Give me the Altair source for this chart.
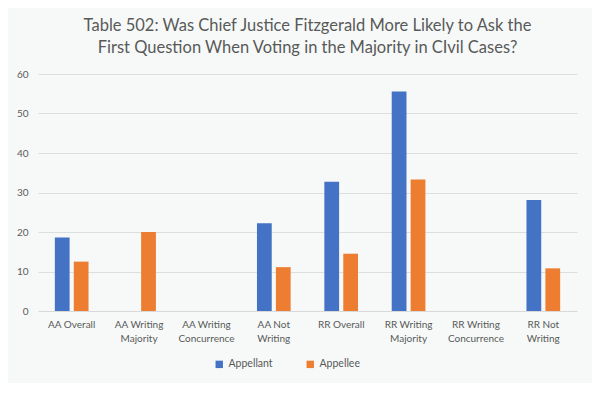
import altair as alt
import pandas as pd

categories = ["AA Overall", "AA Writing|Majority", "AA Writing|Concurrence", "AA Not|Writing",
              "RR Overall", "RR Writing|Majority", "RR Writing|Concurrence", "RR Not|Writing"]
series = ["Appellant", "Appellee"]
appellant = [18.6, None, None, 22.2, 32.7, 55.6, None, 28.1]
appellee = [12.5, 20.0, None, 11.1, 14.5, 33.3, None, 10.8]
colors = ["#4472C4", "#ED7D31"]

rows = []
for c, a, b in zip(categories, appellant, appellee):
    for s, v in zip(series, [a, b]):
        if v is not None:
            rows.append({"category": c, "series": s, "value": v})
df = pd.DataFrame(rows)

FONT = "Lato"
GREY = "#595959"

chart = alt.Chart(df).mark_bar().encode(
    x=alt.X("category:N", sort=categories,
            scale=alt.Scale(domain=categories, paddingInner=0.5, paddingOuter=0.25),
            axis=alt.Axis(title=None, labelAngle=0, labelExpr="split(datum.label, '|')",
                          labelFontSize=10, labelColor=GREY, labelFont=FONT,
                          ticks=False, domainColor="#d9d9d9", labelPadding=8,
                          labelLineHeight=14)),
    xOffset=alt.XOffset("series:N", sort=series,
                        scale=alt.Scale(paddingInner=0.22, paddingOuter=0)),
    y=alt.Y("value:Q", scale=alt.Scale(domain=[0, 60]),
            axis=alt.Axis(title=None, values=[0, 10, 20, 30, 40, 50, 60],
                          labelFontSize=10, labelColor=GREY, labelFont=FONT,
                          gridColor="#dcdfde", domain=False, ticks=False, labelPadding=10)),
    color=alt.Color("series:N", sort=series,
                    scale=alt.Scale(domain=series, range=colors),
                    legend=alt.Legend(title=None, orient="none", direction="horizontal",
                                      legendX=176, legendY=285,
                                      symbolType="square", symbolSize=55,
                                      labelFontSize=10.5, labelColor=GREY, labelFont=FONT,
                                      columnPadding=32, symbolStrokeWidth=0)),
).properties(
    width=539,
    height=237,
    title=alt.TitleParams(
        text=["Table 502: Was Chief Justice Fitzgerald More Likely to Ask the",
              "First Question When Voting in the Majority in CIvil Cases?"],
        fontSize=16.5, font=FONT, fontWeight="normal", color=GREY,
        anchor="middle", lineHeight=22, offset=13,
    ),
    autosize=alt.AutoSizeParams(type="none"),
    padding={"left": 30, "top": 66, "right": 15, "bottom": 72},
    background="#f6f9f8",
).configure_view(stroke=None)

chart.save("out.html", embed_options={"renderer": "svg", "actions": False})
